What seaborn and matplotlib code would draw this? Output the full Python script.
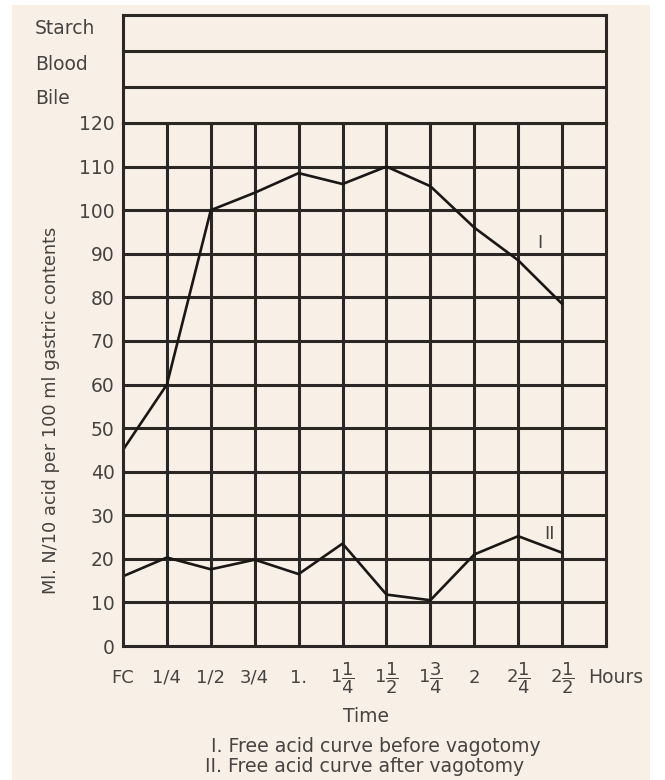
import pandas as pd
import numpy as np
import matplotlib.pyplot as plt
import matplotlib.patches as mpatches
import seaborn as sns

sns.set_theme(style="white")
plt.rcParams['font.family'] = ['DejaVu Sans']
plt.rcParams['mathtext.fontset'] = 'dejavusans'

# time points and free acid readings (ml N/10 acid per 100 ml)
time_labels = ['FC', '1/4', '1/2', '3/4', '1.', r'$1\dfrac{1}{4}$', r'$1\dfrac{1}{2}$',
               r'$1\dfrac{3}{4}$', '2', r'$2\dfrac{1}{4}$', r'$2\dfrac{1}{2}$']
before_vagotomy = [45, 60, 100, 104, 108.5, 106, 110, 105.5, 96, 88.5, 78.5]
after_vagotomy = [16, 20.3, 17.6, 19.8, 16.5, 23.5, 11.8, 10.5, 21, 25.2, 21.4]
y_ticks = list(range(0, 130, 10))
test_rows = ['Starch', 'Blood', 'Bile']

df = pd.DataFrame({
    'pos': list(range(len(time_labels))) * 2,
    'acid': before_vagotomy + after_vagotomy,
    'curve': ['I'] * len(time_labels) + ['II'] * len(time_labels),
})

cream = '#f8f0e7'
ink = '#2b2724'
text_col = '#474340'

fig = plt.figure(figsize=(6.65, 7.8), dpi=100, facecolor='white')
fig.patches.append(mpatches.Rectangle((12 / 665, 0), 638 / 665, 1 - 5 / 780,
                                      transform=fig.transFigure, facecolor=cream,
                                      edgecolor='none', zorder=-10))

ax = fig.add_axes([123 / 665, 1 - 646 / 780, 483 / 665, 523 / 780])
ax.set_facecolor(cream)

sns.lineplot(data=df, x='pos', y='acid', units='curve', estimator=None,
             color='#1a1715', linewidth=1.9, ax=ax, legend=False)

ax.set_xlim(0, 11)
ax.set_ylim(0, 120)
ax.set_xticks(range(len(time_labels)))
ax.set_xticklabels(time_labels, fontsize=13, color=text_col)
for t in ax.get_xticklabels():
    t.set_va('center')
ax.set_yticks(y_ticks)
ax.set_yticklabels([str(v) for v in y_ticks], fontsize=13.5, color=text_col)
ax.tick_params(axis='x', length=0, pad=23)
ax.tick_params(axis='y', length=0, pad=6)

# the heavy grid
for xv in range(1, 11):
    ax.axvline(xv, color=ink, linewidth=2.2, zorder=1)
for yv in y_ticks[1:-1]:
    ax.axhline(yv, color=ink, linewidth=2.2, zorder=1)
for sp in ax.spines.values():
    sp.set_color(ink)
    sp.set_linewidth(2.2)

ax.set_xlabel('')
ax.set_ylabel('Ml. N/10 acid per 100 ml gastric contents', fontsize=12.8,
              color=text_col)
ax.yaxis.set_label_coords(-63 / 483, (646 - 410) / 523)

ax.text(9.5, 92.5, 'I', fontsize=13, color=text_col, ha='center', va='center')
ax.text(9.72, 25.8, 'II', fontsize=13, color=text_col, ha='center', va='center')
ax.text(10.6, -7.2, 'Hours', fontsize=13.5, color=text_col, ha='left', va='center',
        clip_on=False)

# the starch / blood / bile strip on top
top = fig.add_axes([123 / 665, 1 - 123 / 780, 483 / 665, 108 / 780])
top.set_facecolor(cream)
top.set_xlim(0, 11)
top.set_ylim(0, 3)
top.set_xticks([])
top.set_yticks([])
for yv in [1, 2]:
    top.axhline(yv, color=ink, linewidth=2.2)
for sp in top.spines.values():
    sp.set_color(ink)
    sp.set_linewidth(2.2)
for i, name in enumerate(test_rows):
    fig.text(35 / 665, 1 - (29 + i * 35) / 780, name, fontsize=13.5, color=text_col,
             ha='left', va='center')

fig.text(366 / 665, 1 - 717 / 780, 'Time', fontsize=13.5, color=text_col,
         ha='center', va='center')
fig.text(376 / 665, 1 - 746 / 780, 'I. Free acid curve before vagotomy', fontsize=13.6,
         color=text_col, ha='center', va='center')
fig.text(365 / 665, 1 - 767 / 780, 'II. Free acid curve after vagotomy', fontsize=13.6,
         color=text_col, ha='center', va='center')

plt.savefig('out.png', dpi=100, facecolor=fig.get_facecolor())
